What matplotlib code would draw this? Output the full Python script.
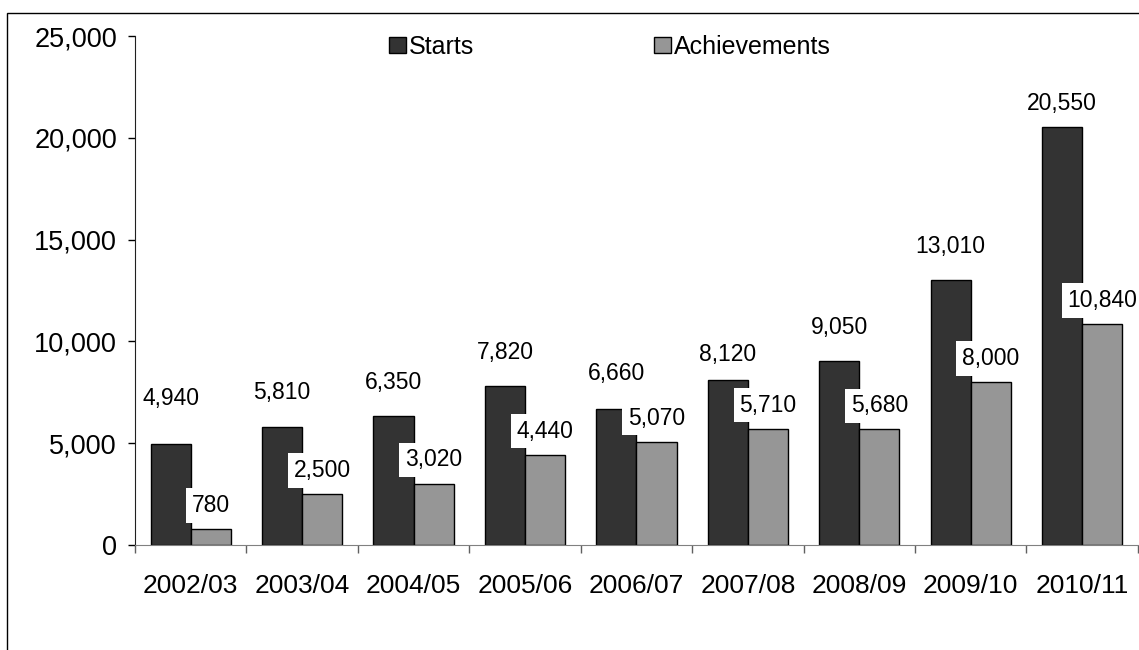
import matplotlib.pyplot as plt
from matplotlib.patches import Rectangle
from matplotlib.ticker import FuncFormatter, FixedLocator
import numpy as np

plt.rcParams['font.family'] = ['Liberation Sans', 'DejaVu Sans']

years = ['2002/03', '2003/04', '2004/05', '2005/06', '2006/07',
         '2007/08', '2008/09', '2009/10', '2010/11']
starts = [4940, 5810, 6350, 7820, 6660, 8120, 9050, 13010, 20550]
achievements = [780, 2500, 3020, 4440, 5070, 5710, 5680, 8000, 10840]

# the starts labels were nudged by hand in the original, offsets in points
start_lbl_off = [33, 25, 24, 24, 26, 18, 24, 24.5, 17]

fig = plt.figure(figsize=(11.39, 6.5), dpi=100)
ax = fig.add_axes([0.1185, 0.1615, 0.8805, 0.7831])

x = np.arange(len(years))
w = 0.36
b1 = ax.bar(x - w / 2, starts, w, color='#333333', edgecolor='black', linewidth=1, label='Starts')
b2 = ax.bar(x + w / 2, achievements, w, color='#969696', edgecolor='black', linewidth=1,
            label='Achievements')

# value labels
for xi, v, off in zip(x, starts, start_lbl_off):
    ax.annotate(f'{v:,}', (xi - w / 2, v), xytext=(0, off), textcoords='offset points',
                ha='center', va='center', fontsize=16.5)
for xi, v in zip(x, achievements):
    ax.annotate(f'{v:,}', (xi + w / 2, v), xytext=(0, 17), textcoords='offset points',
                ha='center', va='center', fontsize=16.5,
                bbox=dict(boxstyle='square,pad=0.25', fc='white', ec='none'))

ax.set_xlim(-0.5, len(years) - 0.5)
ax.set_ylim(0, 25000)
ax.set_yticks(range(0, 25001, 5000))
ax.yaxis.set_major_formatter(FuncFormatter(lambda v, p: f'{int(v):,}'))
ax.set_xticks(x)
ax.set_xticklabels(years)
ax.xaxis.set_minor_locator(FixedLocator(np.arange(-0.5, len(years), 1.0)))

ax.tick_params(axis='y', labelsize=19.5, length=5, width=1, pad=8, direction='out')
ax.tick_params(axis='x', which='major', labelsize=19, length=0, pad=21)
ax.tick_params(axis='x', which='minor', length=6, width=1, color='#606060')

for s in ['top', 'right']:
    ax.spines[s].set_visible(False)
ax.spines['bottom'].set_color('#808080')
ax.spines['left'].set_color('#202020')

fig.legend(handles=[b1, b2], loc='center left', bbox_to_anchor=(389 / 1139, 1 - 47 / 650),
           ncol=2, frameon=False, fontsize=18, handlelength=0.68, handleheight=0.62,
           handletextpad=0.12, columnspacing=7.2, borderpad=0, borderaxespad=0)

# outer chart border
fig.add_artist(Rectangle((7 / 1139, -0.05), 1.2, 1 - 13 / 650 + 0.05, transform=fig.transFigure,
                         fill=False, edgecolor='black', linewidth=1))

fig.savefig('out.png', dpi=100)
